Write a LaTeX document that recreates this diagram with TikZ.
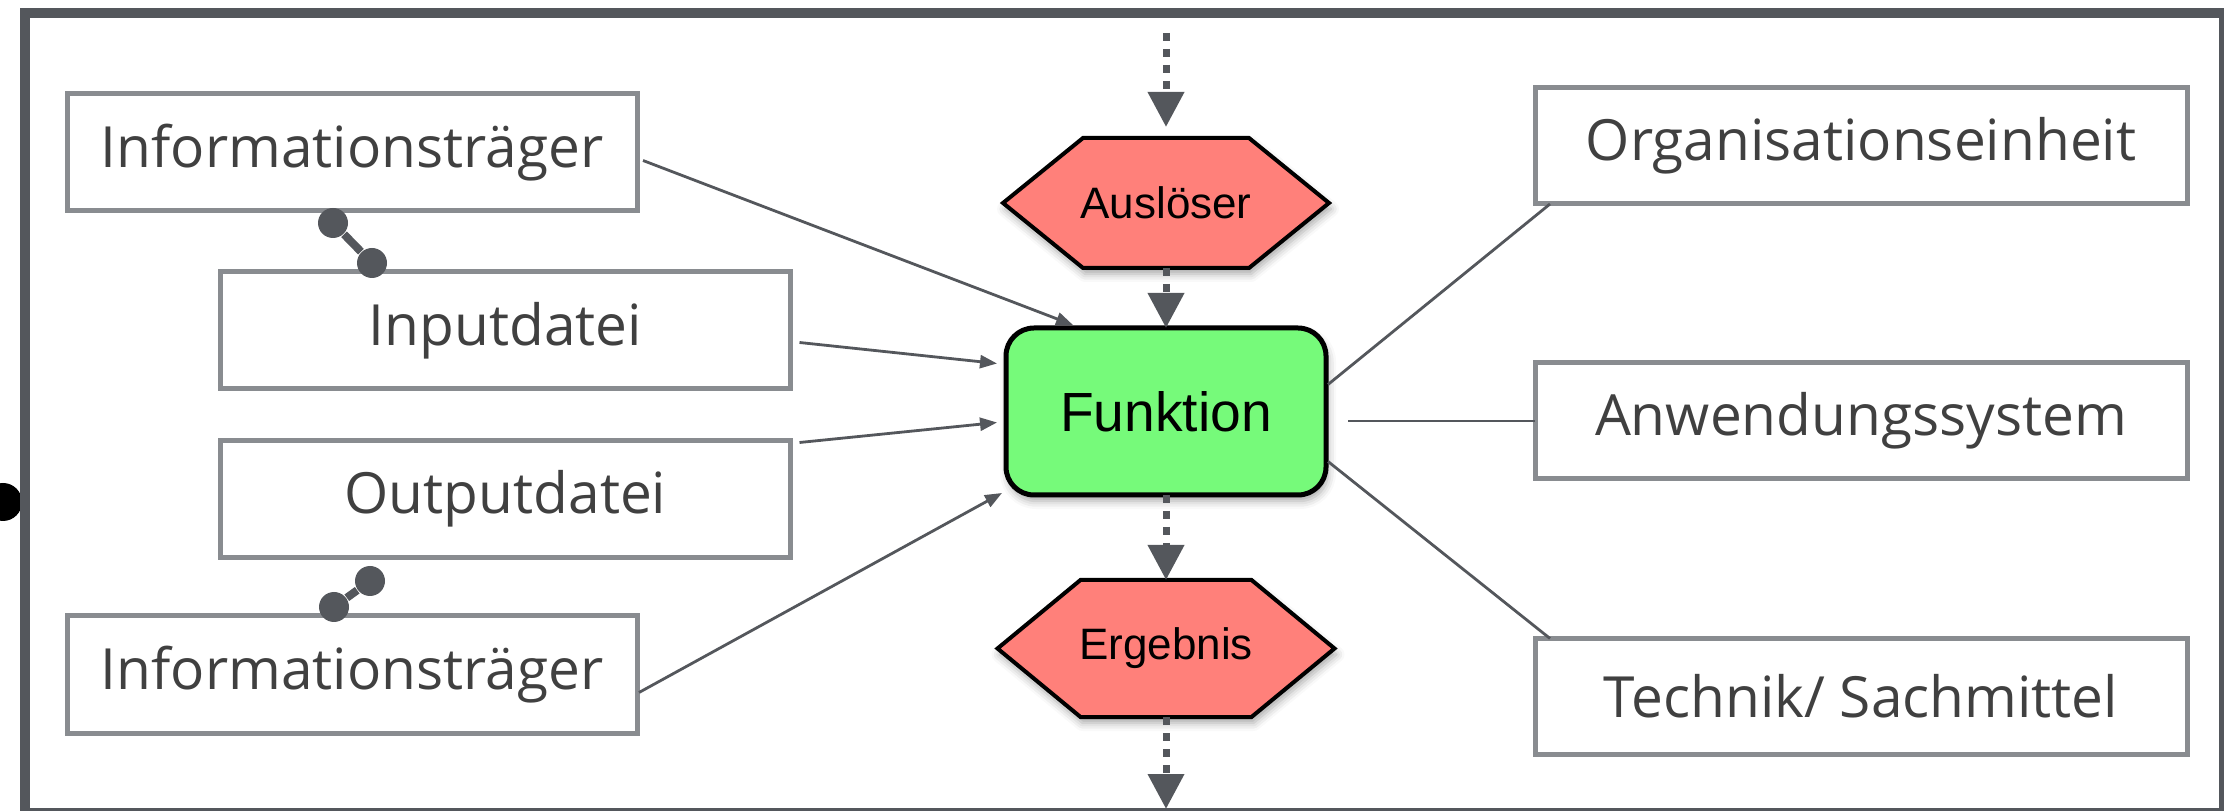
\documentclass[tikz,border=0pt]{standalone}
\usepackage{fontspec}
\setmainfont{Liberation Sans}
\newfontfamily\boxfont{Open Sans}
\usepackage{tikz}
\usetikzlibrary{positioning,calc,arrows.meta,backgrounds,shadows.blur}

\definecolor{rahmen}{RGB}{84,87,92}
\definecolor{kante}{RGB}{137,140,144}
\definecolor{schrift}{RGB}{64,64,64}
\definecolor{ereignis}{RGB}{255,128,122}
\definecolor{funkgruen}{RGB}{118,250,122}

\tikzset{
    info/.style={draw=kante,line width=1.25pt,minimum width=142.5pt,minimum height=29.25pt,
        inner sep=0pt,outer sep=0pt,text=schrift,font=\boxfont\fontsize{14.2}{16}\selectfont},
    orga/.style={info,minimum width=163pt,minimum height=29pt},
    fkt/.style={draw=black,line width=1.25pt,fill=funkgruen,rounded corners=7pt,
        minimum width=80pt,minimum height=41.75pt,inner sep=0pt,outer sep=0pt,
        font=\fontsize{13.8}{16}\selectfont,
        blur shadow={shadow xshift=0.5pt,shadow yshift=-1.5pt,shadow blur radius=2pt,shadow opacity=35}},
    ereig/.style={minimum height=32.5pt,inner sep=0pt,outer sep=0pt,font=\fontsize{11}{13}\selectfont},
    hexa/.style={draw=black,line width=1pt,fill=ereignis,line join=miter,
        blur shadow={shadow xshift=0.5pt,shadow yshift=-1.5pt,shadow blur radius=2pt,shadow opacity=35}},
    fluss/.style={rahmen,line width=0.7pt,-{Triangle[length=4.25pt,width=3.25pt]}},
    bezug/.style={rahmen,line width=0.7pt},
    steuer/.style={rahmen,line width=1.75pt,dash pattern=on 2pt off 2pt,
        -{Triangle[length=8.75pt,width=8.75pt]}},
    hantel/.style={rahmen,line width=2pt},
    punkt/.style={circle,fill=rahmen,minimum size=7.5pt,inner sep=0pt}
}

\begin{document}
\begin{tikzpicture}[x=0.25pt,y=-0.25pt,on grid]
    \clip (0,0) rectangle (2224,811);
    \fill[black] (3,502) circle[radius=4.75pt];
    \draw[rahmen,line width=2.5pt] (25,13) rectangle (2224,813);

    \node[fkt] (funk) at (1166,411.5) {Funktion};
    \node[ereig,minimum width=81.5pt] (ausl) [above=52.125pt of funk] {Auslöser};
    \node[ereig,minimum width=84.25pt,minimum height=34.25pt] (erg) [below=59.25pt of funk] {Ergebnis};

    \node[info] (info1) at (352,152.5) {Informationsträger};
    \node[info] (inp) at (505.5,330.5) {Inputdatei};
    \node[info] (outp) [below=42.125pt of inp] {Outputdatei};
    \node[info] (info2) at (352,674.5) {Informationsträger};

    \node[orga] (anw) at (1861,421) {Anwendungssystem};
    \node[orga] (org) [above=68.75pt of anw] {Organisationseinheit};
    \node[orga] (tech) [below=68.875pt of anw] {Technik/ Sachmittel};

    \begin{scope}[on background layer]
        \filldraw[hexa] (ausl.west) -- ($(ausl.north west)+(80,0)$) -- ($(ausl.north east)+(-80,0)$)
            -- (ausl.east) -- ($(ausl.south east)+(-80,0)$) -- ($(ausl.south west)+(80,0)$) -- cycle;
        \filldraw[hexa] (erg.west) -- ($(erg.north west)+(83,0)$) -- ($(erg.north east)+(-83,0)$)
            -- (erg.east) -- ($(erg.south east)+(-83,0)$) -- ($(erg.south west)+(83,0)$) -- cycle;
    \end{scope}

    \coordinate (oben) at (1166,33);
    \coordinate (unten) at (1166,809);
    \draw[steuer,shorten >=2.75pt] (oben) -- (ausl.north);
    \draw[steuer] (ausl.south) -- (funk.north);
    \draw[steuer] (funk.south) -- (erg.north);
    \draw[steuer] (erg.south) -- (unten);

    \draw[fluss] ($(info1.east)+(6,8)$) -- ($(funk.north west)+(67,-3)$);
    \draw[fluss] ($(inp.east)+(9,12)$) -- ($(funk.west)+(-9,-48)$);
    \draw[fluss] ($(outp.north east)+(9,2)$) -- ($(funk.west)+(-9,11)$);
    \draw[fluss] ($(info2.east)+(2,18)$) -- ($(funk.south west)+(-4,-2)$);

    \draw[bezug] ($(funk.east)+(2,-27)$) -- ($(org.south west)+(15,0)$);
    \draw[bezug] ($(anw.west)+(-187,0)$) -- (anw.west);
    \draw[bezug] ($(funk.east)+(2,50)$) -- ($(tech.north west)+(15,0)$);

    \node[punkt] (h1) at (333,223) {};
    \node[punkt] (h2) at (372,263) {};
    \node[punkt] (h3) at (334,607) {};
    \node[punkt] (h4) at (370,581) {};
    \draw[hantel] (h1) -- (h2);
    \draw[hantel] (h3) -- (h4);

\end{tikzpicture}
\end{document}
